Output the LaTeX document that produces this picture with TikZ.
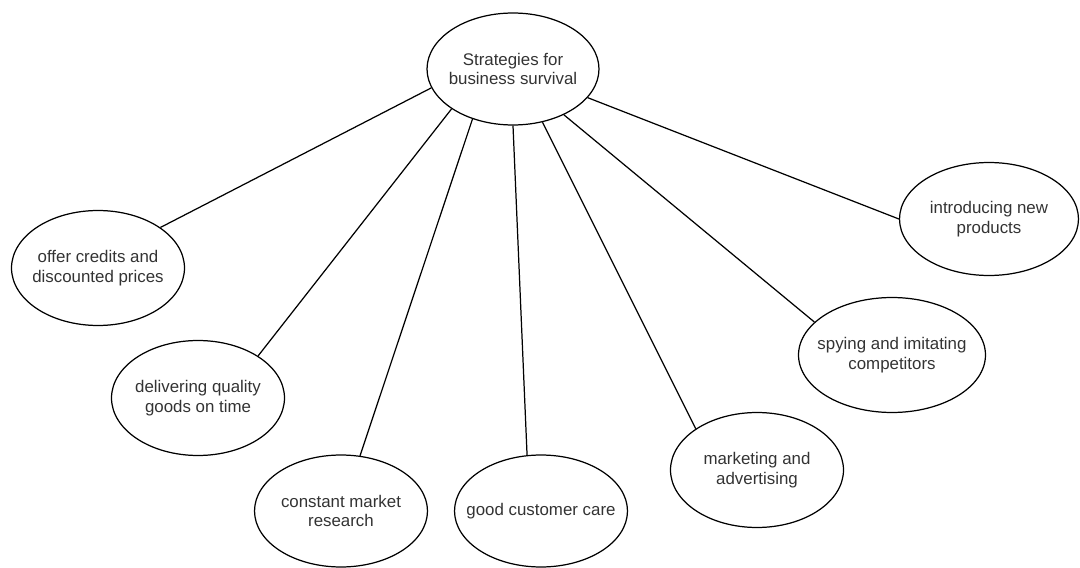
\documentclass[tikz,border=0pt]{standalone}
\usepackage{fontspec}
\setmainfont{Liberation Sans}
\usetikzlibrary{shapes.geometric}

\begin{document}
\begin{tikzpicture}[x=0.02cm, y=-0.02cm,
        idea/.style={ellipse, draw, line width=0.7pt, minimum width=3.46cm, minimum height=2.3cm,
            inner xsep=-1cm, inner ysep=0pt, align=center, text=black!80, font=\fontsize{9.6}{11.2}\selectfont}]
        % 画布
        \useasboundingbox (0,0) rectangle (1080,568);

        % 中心主题
        \node[idea, minimum width=3.44cm, minimum height=2.24cm] (root) at (513,69) {Strategies for\\business survival};

        % 各项策略
        \node[idea] (offer) at (98,268) {offer credits and\\discounted prices};
        \node[idea] (deliver) at (198,398) {delivering quality\\goods on time};
        \node[idea, minimum height=2.24cm] (research) at (341,511) {constant market\\research};
        \node[idea, minimum height=2.24cm] (care) at (541,511) {good customer care};
        \node[idea] (market) at (757,470) {marketing and\\advertising};
        \node[idea, minimum width=3.74cm] (spy) at (892,355) {spying and imitating\\competitors};
        \node[idea, minimum width=3.58cm, minimum height=2.26cm] (newprod) at (989,219) {introducing new\\products};

        % 连线
        \foreach \a/\n/\b in {193/offer/33, 213/deliver/35, 231/research/71, 270/care/104,
                299/market/146, 318/spy/157, 339/newprod/180}
            \draw[line width=0.7pt] (root.\a) -- (\n.\b);
\end{tikzpicture}
\end{document}
